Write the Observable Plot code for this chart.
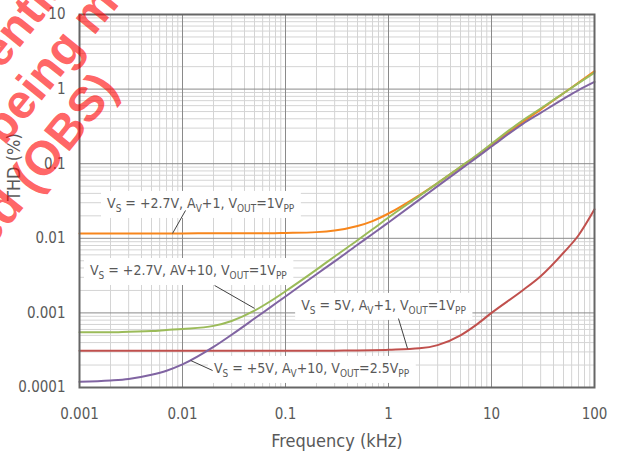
<!DOCTYPE html>
<html><head><meta charset="utf-8">
<script src="https://cdn.jsdelivr.net/npm/d3@7"></script>
<script src="https://cdn.jsdelivr.net/npm/@observablehq/plot@0.6"></script>
<style>html,body{margin:0;padding:0;background:#fff;} svg{display:block}</style>
</head><body><div id="chart"></div>
<script>
// ---- data ----
const freqKHz = [0.001,0.002,0.003,0.005,0.007,0.01,0.02,0.03,0.05,0.07,0.1,0.2,0.3,0.5,0.7,1,2,3,5,7,10,20,30,50,70,100];
const thd27Av1  = [0.0116,0.0116,0.0116,0.0116,0.0116,0.0116,0.0117,0.0117,0.0117,0.0117,0.0118,0.0121,0.0127,0.0146,0.0170,0.0215,0.038,0.055,0.090,0.125,0.178,0.36,0.53,0.88,1.22,1.74];
const thd27Av10 = [0.00055,0.00055,0.00056,0.00057,0.00059,0.00061,0.00067,0.00078,0.00107,0.00141,0.00195,0.0038,0.0057,0.0094,0.0132,0.019,0.037,0.055,0.091,0.127,0.185,0.38,0.55,0.88,1.2,1.66];
const thd5Av1   = [0.00031,0.00031,0.00031,0.00031,0.00031,0.00031,0.00031,0.00031,0.00031,0.00031,0.00031,0.000311,0.000312,0.000313,0.000315,0.00032,0.000335,0.00037,0.0005,0.00068,0.001,0.002,0.0031,0.0064,0.011,0.0245];
const thd5Av10  = [0.000119,0.000124,0.00013,0.000148,0.000168,0.000204,0.00035,0.00051,0.00084,0.00117,0.00166,0.0033,0.0049,0.0082,0.0114,0.0163,0.033,0.05,0.084,0.118,0.17,0.34,0.48,0.74,0.97,1.25];
const seriesNames = ["+2.7V Av+1","+2.7V Av+10","+5V Av+1","+5V Av+10"];
const seriesValues = [thd27Av1, thd27Av10, thd5Av1, thd5Av10];

const xTickValues = [0.001,0.01,0.1,1,10,100];
const xTickLabels = ["0.001","0.01","0.1","1","10","100"];
const yTickValues = [0.0001,0.001,0.01,0.1,1,10];
const yTickLabels = ["0.0001","0.001","0.01","0.1","1","10"];

const annotationLabels = [
  "V_{S} = +2.7V, A_{V}+1, V_{OUT}=1V_{PP}",
  "V_{S} = +2.7V, AV+10, V_{OUT}=1V_{PP}",
  "V_{S} = 5V, A_{V}+1, V_{OUT}=1V_{PP}",
  "V_{S} = +5V, A_{V}+10, V_{OUT}=2.5V_{PP}"
];
const annotationX = [0.0150, 0.0114, 0.894, 0.179];
const annotationY = [0.0293, 0.0037, 0.00126, 0.00018];
const leaderX1 = [0.0107, 0.0205, 1.25, 0.0196];
const leaderY1 = [0.0236, 0.00233, 0.00084, 0.000169];
const leaderX2 = [0.0080, 0.050, 1.53, 0.012];
const leaderY2 = [0.0116, 0.00115, 0.000333, 0.00023];

const watermarkLines = ["Confidential", "being modified", "Released (OBS)"];

// ---- derived tables ----
const rows = seriesNames.flatMap((s, i) => freqKHz.map((f, j) => ({series: s, f, v: seriesValues[i][j]})));
const annotations = annotationLabels.map((t, i) => ({
  text: t, x: annotationX[i], y: annotationY[i],
  x1: leaderX1[i], y1: leaderY1[i], x2: leaderX2[i], y2: leaderY2[i]
}));
const minorX = d3.range(-3, 2).flatMap(e => d3.range(2, 10).map(k => k * 10 ** e));
const minorY = d3.range(-4, 1).flatMap(e => d3.range(2, 10).map(k => k * 10 ** e));

const textColor = "#595959";
const font = "'DejaVu Sans Condensed', 'DejaVu Sans', sans-serif";
const wmStyle = {frameAnchor: "top-left", rotate: -51, lineAnchor: "bottom", fontSize: 48, fontWeight: "bold",
  fontFamily: "'Liberation Sans', Arial, sans-serif", fill: "#ff0000", fillOpacity: 0.62};

const chart = Plot.plot({
  width: 618, height: 462,
  marginLeft: 79, marginRight: 24, marginTop: 14, marginBottom: 75,
  style: {fontFamily: font, fontSize: "15px", color: textColor, background: "#fff", overflow: "visible"},
  x: {type: "log", domain: [0.001, 100], ticks: xTickValues, tickFormat: d => xTickLabels[xTickValues.indexOf(d)], tickSize: 0, tickPadding: 21, label: null},
  y: {type: "log", domain: [0.0001, 10], ticks: yTickValues, tickFormat: d => yTickLabels[yTickValues.indexOf(d)], tickSize: 0, tickPadding: 14, label: null},
  color: {domain: seriesNames, range: ["#f7861c", "#9bbb59", "#c0504d", "#8064a2"]},
  marks: [
    Plot.ruleX(minorX, {stroke: "#d4d4d4", strokeWidth: 1}),
    Plot.ruleY(minorY, {stroke: "#d4d4d4", strokeWidth: 1}),
    Plot.ruleX(xTickValues, {stroke: "#8a8a8a", strokeWidth: 1}),
    Plot.ruleY(yTickValues, {stroke: "#8a8a8a", strokeWidth: 1}),
    Plot.line(rows, {x: "f", y: "v", z: "series", stroke: "series", strokeWidth: 2, curve: "monotone-x"}),
    Plot.link(annotations, {x1: "x1", y1: "y1", x2: "x2", y2: "y2", stroke: "#404040", strokeWidth: 1}),
    Plot.text(annotations, {x: "x", y: "y", text: "text", fill: textColor, fontSize: 14, textAnchor: "middle"}),
    Plot.frame({stroke: "#666666", strokeWidth: 2}),
    Plot.text(["Frequency (kHz)"], {frameAnchor: "bottom", dy: 59, fontSize: 18, fill: textColor}),
    Plot.text(["THD (%)"], {frameAnchor: "left", dx: -65, rotate: -90, fontSize: 18, fill: textColor}),
    // watermark
    Plot.text([watermarkLines[0]], {...wmStyle, dx: -174, dy: 174, textAnchor: "start"}),
    Plot.text([watermarkLines[1]], {...wmStyle, dx: -75, dy: 132, textAnchor: "start"}),
    Plot.text([watermarkLines[2]], {...wmStyle, dx: 40, dy: 75, textAnchor: "end"})
  ]
});
document.getElementById("chart").append(chart);

// ---- subscripts + white label boxes ----
const svgRect = chart.getBoundingClientRect();
const labelTexts = Array.from(chart.querySelectorAll("text")).filter(t => t.textContent.includes("_{"));
const lineGroup = chart.querySelector('g[aria-label="line"]');
const boxGroup = document.createElementNS("http://www.w3.org/2000/svg", "g");
chart.insertBefore(boxGroup, lineGroup);
for (const t of labelTexts) {
  const content = t.textContent;
  while (t.firstChild) t.removeChild(t.firstChild);
  const re = /_\{([^}]*)\}|([^_]+)/g;
  let m, shifted = false;
  while ((m = re.exec(content))) {
    const ts = document.createElementNS("http://www.w3.org/2000/svg", "tspan");
    if (m[1] !== undefined) {
      ts.textContent = m[1];
      ts.setAttribute("font-size", "10px");
      ts.setAttribute("dy", "4");
      shifted = true;
    } else {
      ts.textContent = m[2];
      if (shifted) { ts.setAttribute("dy", "-4"); shifted = false; }
    }
    t.appendChild(ts);
  }
  const r = t.getBoundingClientRect();
  const rect = document.createElementNS("http://www.w3.org/2000/svg", "rect");
  rect.setAttribute("x", r.left - svgRect.left - 6);
  rect.setAttribute("y", r.top - svgRect.top - 4);
  rect.setAttribute("width", r.width + 12);
  rect.setAttribute("height", r.height + 8);
  rect.setAttribute("fill", "#fff");
  boxGroup.appendChild(rect);
}
</script>
</body></html>
